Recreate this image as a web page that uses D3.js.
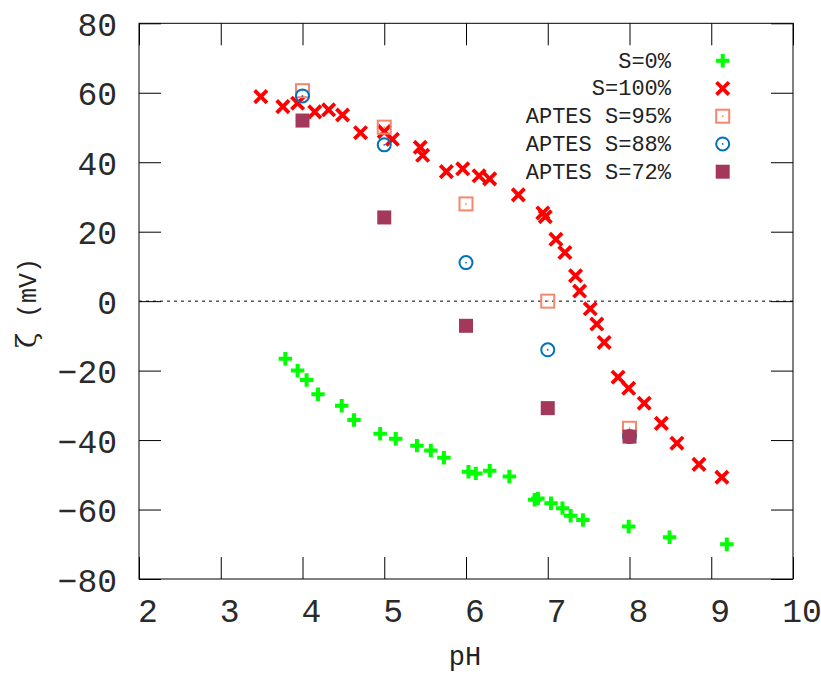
<!DOCTYPE html>
<html><head><meta charset="utf-8">
<script src="https://cdn.jsdelivr.net/npm/d3@7"></script>
<style>body{margin:0;background:#fff}</style>
</head><body>
<script>
// ---- data ----
const s0_ph   = [3.79,3.94,4.05,4.19,4.48,4.63,4.95,5.14,5.40,5.57,5.73,6.03,6.12,6.29,6.53,6.84,6.88,7.04,7.18,7.28,7.43,7.99,8.49,9.19];
const s0_zeta = [-16.6,-20.0,-22.7,-26.8,-30.1,-34.2,-38.2,-39.6,-41.6,-43.0,-45.1,-49.1,-49.6,-48.8,-50.5,-57.2,-56.8,-58.2,-59.6,-61.8,-63.0,-64.9,-68.0,-70.0];
const s100_ph   = [3.49,3.76,3.94,4.15,4.32,4.49,4.71,5.00,5.10,5.44,5.47,5.76,5.96,6.16,6.29,6.64,6.94,6.97,7.10,7.21,7.34,7.39,7.52,7.60,7.69,7.86,7.99,8.18,8.39,8.58,8.85,9.13];
const s100_zeta = [58.9,56.0,57.0,54.5,55.1,53.6,48.5,48.8,46.6,44.3,42.0,37.3,38.1,36.1,35.2,30.6,25.4,24.3,17.8,14.0,7.3,2.9,-2.2,-6.6,-11.9,-21.9,-25.1,-29.4,-35.2,-40.9,-47.0,-50.7];
const aptes_ph = [4,5,6,7,8];
const a95_zeta = [60.6,50.1,28.0,0.0,-36.6];
const a88_zeta = [59.1,45.0,11.1,-14.0,-39.0];
const a72_zeta = [52.0,24.1,-7.1,-30.8,-39.0];
const xTicks = [2,3,4,5,6,7,8,9,10];
const yTicks = [-80,-60,-40,-20,0,20,40,60,80];
const seriesNames = ["S=0%","S=100%","APTES S=95%","APTES S=88%","APTES S=72%"];

const W=821,H=675;
const L=139,R=793,T=23.3,B=579;
const svg=d3.select("body").append("svg").attr("width",W).attr("height",H);
const x=d3.scaleLinear().domain([2,10]).range([L,R]);
const y=d3.scaleLinear().domain([-80,80]).range([B,T]);
const MONO="'Liberation Mono','Courier New',monospace";

// zero line
svg.append("line").attr("x1",L).attr("x2",R).attr("y1",y(0)).attr("y2",y(0))
  .attr("stroke","#000").attr("stroke-width",1).attr("stroke-dasharray","3,4");

// axes (inward ticks, mirrored)
const TL=22;
const gB=svg.append("g").attr("transform",`translate(0,${B})`).call(d3.axisBottom(x).tickValues(xTicks).tickSizeInner(-TL).tickSizeOuter(0).tickFormat(""));
const gT=svg.append("g").attr("transform",`translate(0,${T})`).call(d3.axisTop(x).tickValues(xTicks).tickSizeInner(-TL).tickSizeOuter(0).tickFormat(""));
const gL=svg.append("g").attr("transform",`translate(${L},0)`).call(d3.axisLeft(y).tickValues(yTicks).tickSizeInner(-TL).tickSizeOuter(0).tickFormat(""));
const gR=svg.append("g").attr("transform",`translate(${R},0)`).call(d3.axisRight(y).tickValues(yTicks).tickSizeInner(-TL).tickSizeOuter(0).tickFormat(""));
[gB,gT,gL,gR].forEach(g=>{g.select(".domain").remove();g.selectAll("line").attr("stroke","#000");});
svg.append("rect").attr("x",L).attr("y",T).attr("width",R-L).attr("height",B-T).attr("fill","none").attr("stroke","#000").attr("stroke-width",1);

// tick labels
svg.append("g").selectAll("text").data(xTicks).join("text")
  .attr("x",d=>x(d)+9).attr("y",B+42.7).attr("text-anchor","middle")
  .attr("font-family",MONO).attr("font-size",33).attr("fill","#2a2a2a").text(d=>d);
svg.append("g").selectAll("text").data(yTicks).join("text")
  .attr("x",117).attr("y",d=>y(d)+12.5).attr("text-anchor","end")
  .attr("font-family",MONO).attr("font-size",33).attr("fill","#2a2a2a").text(d=>d<0?"\u2212"+Math.abs(d):d);

// axis labels
svg.append("text").attr("x",465).attr("y",665).attr("text-anchor","middle")
  .attr("font-family",MONO).attr("font-size",27).attr("fill","#222").text("pH");
const yl=svg.append("text").attr("transform","translate(36,303) rotate(-90)").attr("text-anchor","middle").attr("fill","#222");
yl.append("tspan").attr("font-family","'DejaVu Serif',serif").attr("font-size",28).text("\u03b6");
yl.append("tspan").attr("font-family",MONO).attr("font-size",25).text(" (mV)");

// marker drawers
const C={g:"#00ff00",r:"#ff0000",o:"#f7876c",b:"#0072bd",m:"#a3385b"};
function plus(g,cx,cy){g.append("path").attr("d",`M${cx-6.7},${cy}H${cx+6.7}M${cx},${cy-6.7}V${cy+6.7}`).attr("stroke",C.g).attr("stroke-width",4).attr("fill","none");}
function cross(g,cx,cy){const h=6.2;g.append("path").attr("d",`M${cx-h},${cy-h}L${cx+h},${cy+h}M${cx-h},${cy+h}L${cx+h},${cy-h}`).attr("stroke",C.r).attr("stroke-width",3.8).attr("fill","none");}
function osq(g,cx,cy){g.append("rect").attr("x",cx-6.5).attr("y",cy-6.5).attr("width",13).attr("height",13).attr("fill","none").attr("stroke",C.o).attr("stroke-width",2);
  g.append("circle").attr("cx",cx).attr("cy",cy).attr("r",0.9).attr("fill",C.o);}
function ocirc(g,cx,cy){g.append("circle").attr("cx",cx).attr("cy",cy).attr("r",6.5).attr("fill","none").attr("stroke",C.b).attr("stroke-width",2);
  g.append("circle").attr("cx",cx).attr("cy",cy).attr("r",0.9).attr("fill",C.b);}
function fsq(g,cx,cy){g.append("rect").attr("x",cx-7).attr("y",cy-7).attr("width",14).attr("height",14).attr("fill",C.m);}

const marks=[plus,cross,osq,ocirc,fsq];
const sets=[[s0_ph,s0_zeta],[s100_ph,s100_zeta],[aptes_ph,a95_zeta],[aptes_ph,a88_zeta],[aptes_ph,a72_zeta]];
const pg=svg.append("g");
sets.forEach((s,i)=>{s[0].forEach((p,j)=>marks[i](pg,x(p),y(s[1][j])));});

// legend
const lg=svg.append("g");
seriesNames.forEach((n,i)=>{
  const cy=60.7+i*27.75;
  lg.append("text").attr("x",671).attr("y",cy+6.8).attr("text-anchor","end")
    .attr("font-family",MONO).attr("font-size",22).attr("fill","#222").text(n);
  marks[i](lg,722.7,cy);
});
</script>
</body></html>
